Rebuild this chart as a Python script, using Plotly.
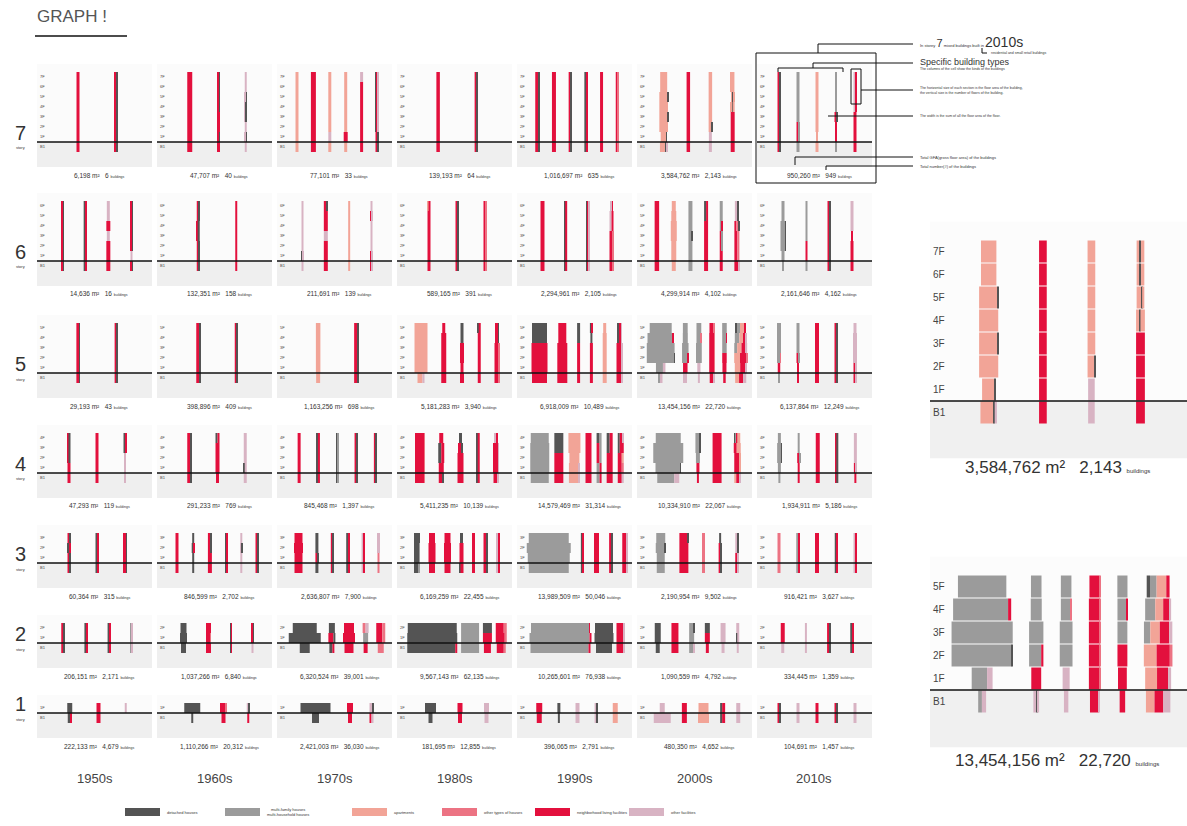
import re
import plotly.graph_objects as go

W, H = 1187, 826

DECADES = ["1950s", "1960s", "1970s", "1980s", "1990s", "2000s", "2010s"]
STOREYS = [7, 6, 5, 4, 3, 2, 1]

USE_NAMES = ["detached houses", "multi-family houses<br>multi-household houses", "apartments",
             "other types of houses", "neighborhood living facilities", "other facilities"]
USE_CODES = ["D", "M", "A", "O", "N", "F"]
USE_COLORS = ["#545454", "#9b9b9b", "#f2a497", "#ec7383", "#e3103d", "#d8b3c3"]

# totals per cell (gross floor area m², number of buildings), 1950s .. 2010s
AREA_7 = ["6,198", "47,707", "77,101", "139,193", "1,016,697", "3,584,762", "950,260"]
BLDG_7 = ["6", "40", "33", "64", "635", "2,143", "949"]
AREA_6 = ["14,636", "132,351", "211,691", "589,165", "2,294,961", "4,299,914", "2,161,646"]
BLDG_6 = ["16", "158", "139", "391", "2,105", "4,102", "4,162"]
AREA_5 = ["29,193", "398,896", "1,163,256", "5,181,283", "6,918,009", "13,454,156", "6,137,864"]
BLDG_5 = ["43", "409", "698", "3,940", "10,489", "22,720", "12,249"]
AREA_4 = ["47,293", "291,233", "845,468", "5,411,235", "14,579,469", "10,334,910", "1,934,911"]
BLDG_4 = ["119", "769", "1,397", "10,139", "31,314", "22,067", "5,186"]
AREA_3 = ["60,364", "846,599", "2,636,807", "6,169,259", "13,989,509", "2,190,954", "916,421"]
BLDG_3 = ["315", "2,702", "7,900", "22,455", "50,046", "9,502", "3,627"]
AREA_2 = ["206,151", "1,037,266", "6,320,524", "9,567,143", "10,265,601", "1,090,559", "334,445"]
BLDG_2 = ["2,171", "6,840", "39,001", "62,135", "76,938", "4,792", "1,359"]
AREA_1 = ["222,133", "1,110,266", "2,421,003", "181,695", "396,065", "480,350", "104,691"]
BLDG_1 = ["4,679", "20,312", "36,030", "12,855", "2,791", "4,652", "1,457"]

# Each cell: list of building-type columns. Each column: floor compositions from B1 upward
# (the last entry repeats up to the top floor). "N3D1" = 3 units neighborhood facility + 1 unit detached.
COLS_7 = [
    [["N3"], ["N1.5D1.5"]],
    [["N5"], ["N3", "N2.5D0.5", "N3", "N3", "N2D1", "N2D1", "N2D1", "N2.5D0.5"],
     ["F2", "F1.5D0.5", "F2", "F1D1", "F1D1", "F1.5D0.5", "F2"]],
    [["A3"], ["N5"], ["A3", "F3", "A3"], ["A3", "N4", "A3"],
     ["N3", "N3", "N3", "N3", "N3", "N3", "N3", "F3"], ["N2D1", "N2D1", "D1N1F1"]],
    [["N3.5"], ["N2D1"]],
    [["N3D1"], ["N4"], ["N2D1"], ["D2N1"], ["N3"], ["N2O1"]],
    [["A6D0.5F1", "A5.5D0.5", "A8.7", "A8.2D0.5", "A8.7", "A8.2D0.5", "A7", "A7"],
     ["N3.5"],
     ["F3", "F3", "A3D0.5", "A3.5"],
     ["N4", "N4", "N4", "N4", "A1.5D0.5A2", "A2D0.5A1", "A1.5D0.5A1.5"]],
    [["N2D1"], ["M3", "N2M1", "N2M1", "M3"], ["A3", "A2", "A3"], ["M2", "N2", "N2", "N2D1", "M2"],
     ["N3", "N3", "N3", "N3", "F2N1"]],
]
COLS_6 = [
    [["N2D1"], ["D2N1"], ["N4", "N4", "N4", "F3", "N4", "F3", "F3"], ["N2D1", "F2", "N2D1"]],
    [["N2D1", "N2D1", "N2D1", "N1D2", "N1D2", "N2D1"], ["N2"]],
    [["F2", "D1F1", "F2"], ["N4", "N4", "N4", "F4", "N4", "N4", "N3D1"], ["A2"],
     ["N1F1", "N1F1", "F2", "F2", "F2", "N1F1", "F2"]],
    [["N3", "N3", "N3", "N3", "N3", "N3", "A1N2"], ["N2D1"], ["N2O1"]],
    [["N4"], ["D1N2"], ["D1N1F1"], ["N3O1", "N3O1", "N3O1", "N3O1", "F2N2", "F2N2", "F2N1"]],
    [["N4.5"], ["A4", "A5", "A5", "A6", "A6", "A5", "A4"], ["M4", "M4", "M4", "M3D1", "M4"],
     ["N4", "N4", "N4", "N4", "N4", "D2N2"], ["N3", "N3", "N2M1", "N2M1", "M2N1", "M3", "M3"],
     ["N4F1", "N3O2", "N3O2", "N3O2", "N2O2D1", "F3D1", "F3D1"]],
    [["M2", "M3", "M4.5D0.5", "M4.5D0.5", "M4.5D0.5", "M3", "M3"], ["M2", "N2", "N2", "M2"], ["N2D1"],
     ["N3", "N3", "N3", "N2", "F3"]],
]
COLS_5 = [
    [["N3D0.5"], ["N2D1"]],
    [["N3D1"], ["N2D1"]],
    [["A4", "A4.5"], ["N3D1"]],
    [["A5F2", "A13"], ["N5", "N5", "N5", "N5", "N5", "N3"], ["N4", "N3", "N4", "N4", "D3", "D3"],
     ["N3", "N3", "N3", "N3", "N3", "D1N2"], ["N4O1", "N4O1", "N4O1", "N4O1", "N3D1", "N3D1"]],
    [["N15", "N16", "N16", "N16", "D15", "D15"], ["N10", "N10", "N10", "N10", "N8", "N8"],
     ["N3", "N3", "N3", "N3", "D3", "D3"], ["N3", "N3", "N3", "N3", "D2", "D2N1"],
     ["A4", "A4", "A4", "A4", "A4", "A3"], ["N5F1", "N5F1", "N5F1", "N5F1", "D2N2F1", "D2N2F1"]],
    [["M1.7F1.9", "M7F2.5", "M27.2D0.6", "M27.8", "M25N1.4", "M22"],
     ["F1.2D0.6F0.8", "N4.5", "M5.5N1", "M6.5", "M5", "M4.8"],
     ["F2", "F3.2", "M5.8", "M5.8", "M4.3O0.5", "M4.8"],
     ["N4F0.5", "N5O0.5", "N5O0.5", "N5O0.5", "N5O0.5", "N4.5O0.5"],
     ["N2.5", "N4", "N4.5", "M4.5", "M4N0.5", "M4.6"],
     ["A3.9N4F3.2", "A5.4N5F1.4", "A5.8N6O1.2", "M2.9A4.3N4.3F1.4", "M4.6A3.6N2.9F0.7", "D1.5M3A4.4N1.5"]],
    [["M2", "N2.5", "M3.5O0.5", "M4"], ["N2", "N2", "N2M1", "M3"], ["N4"], ["N2D1"],
     ["N2F1", "N2F1", "F4", "F4", "F4", "F3"]],
]
COLS_4 = [
    [["N3", "N3", "N1D2"], ["N3"], ["F2", "F2", "F2", "D2N1"]],
    [["N3D1"], ["N3", "N4", "N4", "N4", "D2N2"], ["F3", "D1F2", "F3"]],
    [["N3"], ["D1N2"], ["D1M1"], ["N2D1"], ["N2D0.5"]],
    [["N9O1"], ["N4D1", "N5", "D3N3", "D3N3", "N4"], ["N6", "N6", "N6", "N3D2", "D3"], ["D1N2"],
     ["N4F1", "N5F1", "N5F1", "N5F1", "F2N2"]],
    [["M18", "M19", "M19", "M19", "M18"], ["N9", "N9", "N9", "D9"], ["A10F1", "A10F1", "A10", "A12"],
     ["N6"], ["M3N2", "M3N2", "N3M2", "N3M2", "D3M2"], ["N6", "N6", "N6", "D3N3"],
     ["N4F2", "N4O2", "N4A2", "D2N4", "D2N3F1"]],
    [["M17F5", "M25D0.5", "M30", "M30", "M25"], ["N2", "N3", "M4", "M4D1"], ["N9"],
     ["A2N3F1", "N5A1", "N5A1", "N3A4", "D1M1N1A3"]],
    [["M2", "M3", "M4D0.5", "M4D0.5", "M3"], ["N2", "N2", "N2M1", "M2"], ["N4"], ["N1D2"],
     ["N2", "N2F1", "F3"]],
]
COLS_3 = [
    [["N2D1", "N2D1", "D2N2", "N2D1"], ["D2N1"], ["N3D1"]],
    [["N3"], ["D2", "D2", "D2N1", "D2"], ["N4", "N4", "N3D1"], ["D1N1"], ["F2", "F2", "F1D1", "F2"], ["N2D1"]],
    [["N8", "N8", "N9", "N8"], ["D3", "N2D1", "D3"], ["N2D1"], ["D2N1"], ["F2N1"], ["O2", "O2", "F3"]],
    [["D4M2", "D5M1", "D5M1", "D6"], ["N6", "N7", "N7", "N6"], ["N6", "N7", "N7", "N6"],
     ["D1N3", "N4", "N4", "D3"], ["N3"], ["N3D1"], ["F2N2"]],
    [["M40", "M42", "M44", "M40"], ["D2N1"], ["N5"], ["N2D1"], ["N4F1"]],
    [["M8", "M8", "M9D1", "M9"], ["N9", "N9", "N9", "N8D1"], ["O3"], ["N2D1", "N2D1", "N2D1", "D2"],
     ["N2F1", "N2F1", "F2D1"]],
    [["O3"], ["M2N1"], ["N4"], ["D2N1"], ["F2N1"]],
]
COLS_2 = [
    [["N2D1"], ["D2N1"], ["D2N1"], ["M1F1"]],
    [["D5", "D7", "D6"], ["N5", "N4O1", "N5"], ["D1N1"], ["F2", "N2D1"]],
    [["D10", "D32", "D24"], ["D3N2", "N5D2", "D6"], ["N9", "N12", "N10"], ["N4", "M5", "O3F3"], ["O6", "N6O3"]],
    [["D48N2", "D50", "D49"], ["M18"], ["N7", "N9", "D9"], ["N7O2", "N9O2", "N8O3"]],
    [["M58N2", "M60N2", "M58N1"], ["D16", "D19", "D18"], ["N7F1"]],
    [["D4", "D6"], ["N7"], ["M4F1", "M5", "M4D1"], ["N3", "N5", "D5"], ["F3", "F5"], ["F2", "D1F2", "F3"]],
    [["F3", "N4"], ["F2"], ["N2D1"], ["D2N1"]],
]
COLS_1 = [
    [["D3N1", "D5"], ["N4"], ["", "F2"]],
    [["D2", "D16"], ["N4", "N5O2"], ["N2", "F2D1"]],
    [["D7", "D30"], ["N4", "N6"], ["N2F2", "F3D1"]],
    [["D4", "D11"], ["N4", "N5"], ["F4", "F5"]],
    [["N5", "N6"], ["D2", "D3"], ["F4"], ["F2D1"], ["A5"]],
    [["F17", "F5"], ["N5"], ["A11", "A10"], ["D2N3"], ["F4"]],
    [["N2D1"], ["F3"], ["N3"], ["N2D1"], ["F3"]],
]

ROWS = {7: (COLS_7, AREA_7, BLDG_7), 6: (COLS_6, AREA_6, BLDG_6), 5: (COLS_5, AREA_5, BLDG_5),
        4: (COLS_4, AREA_4, BLDG_4), 3: (COLS_3, AREA_3, BLDG_3), 2: (COLS_2, AREA_2, BLDG_2),
        1: (COLS_1, AREA_1, BLDG_1)}
ENLARGED = [(7, "2000s"), (5, "2000s")]

# ---------------- layout constants (pixels) ----------------
FONT = "Liberation Sans, Arial, sans-serif"
TXT = "#333333"
CELL_X0, CELL_PITCH, CELL_W = 37, 120, 115
BASELINE = {7: 142, 6: 261, 5: 373, 4: 473, 3: 563, 2: 643, 1: 713}
BIG = [dict(x0=930, base=401, text_y=467), dict(x0=930, base=690, text_y=760)]
SPACING = {1: 0, 2: 38, 3: 28, 4: 23, 5: 19, 6: 16, 7: 13.5}
PART = re.compile(r"([A-Z])([\d.]+)")
COLOR_OF = dict(zip(USE_CODES, USE_COLORS))


def px(x):
    return x / W


def py(y):
    return 1 - y / H


def parse(s):
    return [(c, float(w)) for c, w in PART.findall(s)]


def floors_of(col, n):
    fl = [parse(s) for s in col]
    while len(fl) < n + 1:
        fl.append(fl[-1])
    return fl[:n + 1]


def centers(cols, n):
    widths = [max(sum(w for _, w in f) for f in floors_of(c, n)) for c in cols]
    k = len(widths)
    if k == 1:
        return [60.0]
    pair = [(widths[i] + widths[i + 1]) / 2 for i in range(k - 1)]
    g = max(3.0, ((k - 1) * SPACING[k] - sum(pair)) / (k - 1))
    rel = [0.0]
    for p in pair:
        rel.append(rel[-1] + p + g)
    lo, hi = rel[0] - widths[0] / 2, rel[-1] + widths[-1] / 2
    shift = 60 - (lo + hi) / 2
    return [r + shift for r in rel]


fig = go.Figure()
shapes, anns = [], []
counter = [0]


def add_cell(n, cols, x0, x1, base, sx, sy, bar_h, tickfont, below_col, above_col):
    counter[0] += 1
    idx = counter[0]
    sfx = "" if idx == 1 else str(idx)
    top = base - (n + 0.8) * sy
    bot = base + 2.5 * sy
    xs, ys, bs, ws, cs = [], [], [], [], []
    for c, col in zip(centers(cols, n), cols):
        for j, parts in enumerate(floors_of(col, n)):
            tot = sum(w for _, w in parts)
            left = c - tot / 2
            for code, w in parts:
                xs.append(left + w / 2)
                ws.append(w)
                left += w
                ys.append(bar_h)
                bs.append(j - 1 + (1 - bar_h) / 2)
                cs.append(COLOR_OF[code])
    fig.add_trace(go.Bar(x=xs, y=ys, base=bs, width=ws,
                         marker=dict(color=cs, line=dict(width=0)),
                         xaxis="x" + sfx, yaxis="y" + sfx, hoverinfo="skip", showlegend=False))
    fig.layout["xaxis" + sfx] = dict(domain=[px(x0), min(1.0, px(x1))], range=[0, (min(x1, W) - x0) / sx],
                                      anchor="y" + sfx, visible=False, fixedrange=True)
    fig.layout["yaxis" + sfx] = dict(domain=[py(bot), py(top)], range=[-2.5, n + 0.8], anchor="x" + sfx,
                                      showgrid=False, zeroline=False, showline=False, ticks="",
                                      tickvals=[j - 0.5 for j in range(n + 1)],
                                      ticktext=["B1"] + [f"{j}F" for j in range(1, n + 1)],
                                      ticklabelposition="inside", tickfont=tickfont, fixedrange=True)
    xd = ("x" if idx == 1 else "x" + sfx) + " domain"
    shapes.append(dict(type="rect", xref=xd, yref="y" + sfx, x0=0, x1=1, y0=0, y1=n + 0.8,
                       fillcolor=above_col, line=dict(width=0), layer="below"))
    shapes.append(dict(type="rect", xref=xd, yref="y" + sfx, x0=0, x1=1, y0=-2.5, y1=0,
                       fillcolor=below_col, line=dict(width=0), layer="below"))
    shapes.append(dict(type="line", xref=xd, yref="y" + sfx, x0=0, x1=1, y0=0, y1=0,
                       line=dict(color="#111111", width=1.3), layer="above"))


def ann(x, y, text, size, xanchor="center", yanchor="middle", color=TXT):
    anns.append(dict(x=px(x), y=py(y), xref="paper", yref="paper", text=text, showarrow=False,
                     xanchor=xanchor, yanchor=yanchor, font=dict(size=size, color=color, family=FONT)))


def line(points, width=1.0):
    for (xa, ya), (xb, yb) in zip(points[:-1], points[1:]):
        shapes.append(dict(type="line", xref="paper", yref="paper", x0=px(xa), y0=py(ya), x1=px(xb), y1=py(yb),
                           line=dict(color="#111111", width=width)))


# ---------------- small multiples ----------------
for s in STOREYS:
    cols_row, areas, bldgs = ROWS[s]
    base = BASELINE[s]
    for d, dec in enumerate(DECADES):
        x0 = CELL_X0 + CELL_PITCH * d
        add_cell(s, cols_row[d], x0, x0 + CELL_W, base, 1.0, 10.0, 1.0,
                 dict(size=4, color="#444444", family=FONT), "#efefef", "#fbfbfb")
        ann(x0 + 62, base + 33,
            f"{areas[d]} m²   {bldgs[d]} <span style='font-size:3.5px'>buildings</span>", 6.5)
    ann(20, base - 9, str(s), 20)
    ann(20, base + 6, "story", 4)

for d, dec in enumerate(DECADES):
    ann(CELL_X0 + CELL_PITCH * d + 57.5, 778, dec, 13, color="#444444")

# ---------------- enlarged cells ----------------
for spec, (s, dec) in zip(BIG, ENLARGED):
    cols_row, areas, bldgs = ROWS[s]
    d = DECADES.index(dec)
    add_cell(s, cols_row[d], spec["x0"], W, spec["base"], 2.2, 23.0, 0.95,
             dict(size=10, color="#444444", family=FONT), "#f0f0f0", "#fcfcfc")
    ann(1057, spec["text_y"],
        f"{areas[d]} m²   {bldgs[d]} <span style='font-size:6px'>buildings</span>", 17)

# ---------------- title ----------------
ann(35, 17, "GRAPH !", 17, xanchor="left", color="#555555")
line([(35, 36), (127, 36)], 1.5)

# ---------------- explanation callout ----------------
shapes.append(dict(type="rect", xref="paper", yref="paper", x0=px(756), x1=px(876), y0=py(183), y1=py(53),
                   line=dict(color="#111111", width=1)))
line([(818, 53), (818, 44), (913, 44)])
line([(982, 48), (982, 53), (987, 53)])
line([(778, 72), (778, 68), (843, 68), (843, 72)])
line([(813, 68), (813, 63), (913, 63)])
shapes.append(dict(type="rect", xref="paper", yref="paper", x0=px(851), x1=px(861), y0=py(104), y1=py(69),
                   line=dict(color="#111111", width=1)))
line([(861, 90), (913, 90)])
line([(828, 116), (913, 116)])
line([(795, 165), (795, 157), (913, 157)])
line([(826, 170), (826, 166), (913, 166)])
ann(918, 42, "In storey <span style='font-size:11px'>7</span> mixed buildings built in "
              "<span style='font-size:14px'>2010s</span>", 4, xanchor="left")
ann(989, 53, "residential and small retail buildings", 3.5, xanchor="left")
ann(918, 62, "Specific building types", 9, xanchor="left")
ann(918, 69, "The columns of the cell show the kinds of the buildings", 3.5, xanchor="left")
ann(918, 88, "The horizontal size of each section is the floor area of the building,", 3.5, xanchor="left")
ann(918, 93, "the vertical size is the number of floors of the building.", 3.5, xanchor="left")
ann(918, 116, "The width is the sum of all the floor area of the floor.", 3.5, xanchor="left")
ann(918, 157, "Total GFA(gross floor area) of the buildings", 4, xanchor="left")
ann(918, 166, "Total number(#) of the buildings", 4, xanchor="left")

# ---------------- legend ----------------
LEG_X = [125, 225, 352, 442, 535, 629]
for lx, name, col in zip(LEG_X, USE_NAMES, USE_COLORS):
    shapes.append(dict(type="rect", xref="paper", yref="paper", x0=px(lx), x1=px(lx + 35),
                       y0=py(816), y1=py(808), fillcolor=col, line=dict(width=0)))
    ann(lx + 40, 812, name, 4, xanchor="left")

fig.update_layout(width=W, height=H, margin=dict(l=0, r=0, t=0, b=0),
                  paper_bgcolor="white", plot_bgcolor="rgba(0,0,0,0)", barmode="overlay",
                  showlegend=False, shapes=shapes, annotations=anns,
                  font=dict(family=FONT, color=TXT))

fig.write_html("out.html", config={"displayModeBar": False},
               post_script="document.body.style.margin='0';document.body.style.overflow='hidden';")
